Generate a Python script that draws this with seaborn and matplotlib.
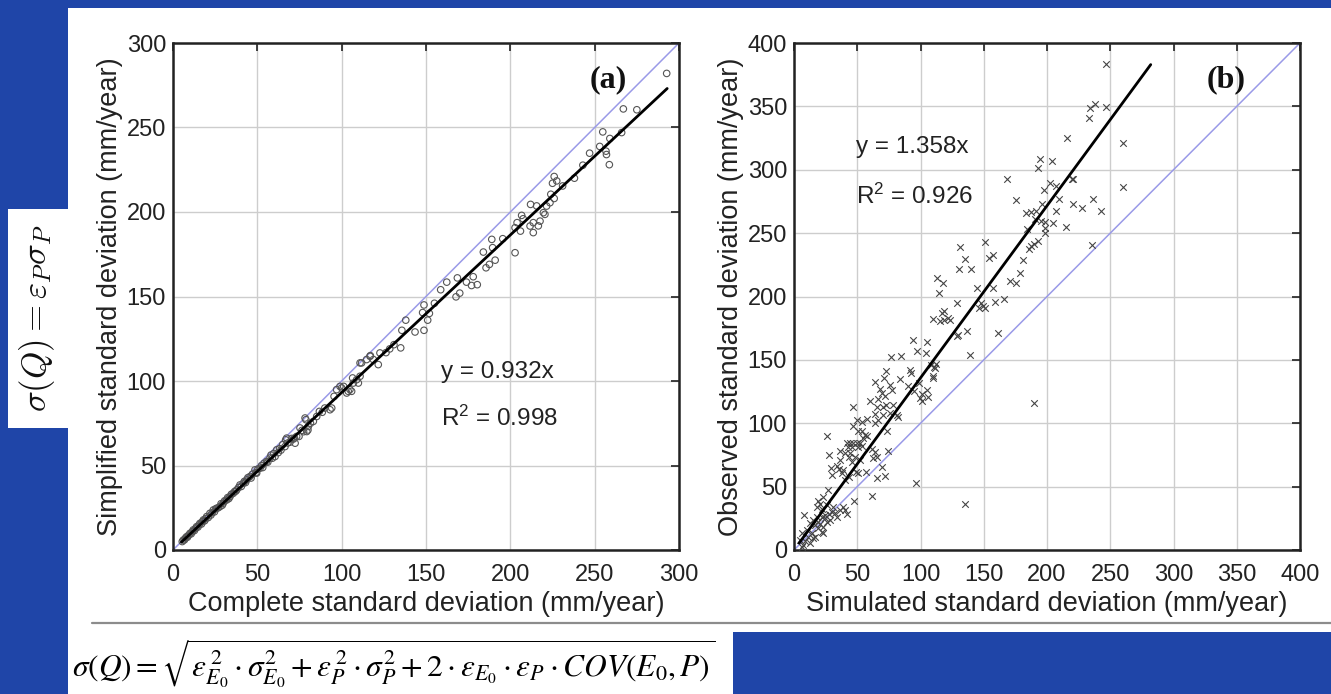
import numpy as np
import pandas as pd
import matplotlib
matplotlib.use("Agg")
import matplotlib.pyplot as plt
from matplotlib.patches import Rectangle
from matplotlib.lines import Line2D
import seaborn as sns

# ---------------- data ----------------
a_complete = [5.5, 6.1, 6.8, 7.4, 8.1, 8.6, 9.3, 10.1, 10.8, 11.5, 12.0, 12.7, 13.5, 14.0, 14.8,
              15.5, 16.0, 16.9, 17.5, 18.0, 18.8, 19.4, 20.0, 20.9, 21.9, 22.5, 23.2, 23.9, 24.6,
              25.2, 25.9, 26.8, 27.9, 28.5, 29.2, 29.8, 30.6, 31.8, 32.4, 33.1, 33.8, 34.6, 35.8,
              36.5, 37.2, 37.8, 38.9, 39.7, 40.5, 41.7, 42.3, 43.0, 43.7, 44.4, 45.7, 46.3, 47.1,
              48.6, 49.2, 49.6, 50.4, 51.6, 52.5, 53.2, 54.0, 55.5, 56.2, 57.5, 58.1, 58.9, 59.8,
              60.5, 61.5, 62.4, 63.2, 64.0, 65.0, 66.4, 66.8, 67.4, 68.0, 69.4, 70.3, 71.3, 72.0,
              72.4, 73.3, 74.7, 75.3, 76.5, 77.4, 78.3, 78.8, 79.3, 80.2, 80.0, 81.5, 83.2, 85.2,
              86.8, 88.5, 90.0, 93.1, 94.1, 95.5, 97.0, 99.0, 100.0, 101.2, 103.0, 103.9, 104.9,
              105.9, 106.5, 106.9, 108.9, 109.9, 110.9, 110.9, 111.8, 114.8, 116.8, 117.0, 118.8,
              121.7, 122.7, 126.3, 128.5, 131.0, 135.0, 135.7, 138.0, 143.5, 148.0, 148.8, 148.8,
              151.0, 152.0, 155.0, 158.7, 162.3, 167.8, 168.6, 170.0, 174.0, 177.0, 178.0, 180.4,
              184.0, 185.6, 187.6, 189.0, 189.5, 191.0, 195.5, 202.8, 202.8, 204.0, 206.0, 206.7,
              207.6, 211.7, 212.0, 213.6, 213.6, 215.6, 216.6, 217.6, 219.6, 220.5, 221.5, 223.5,
              224.0, 225.0, 226.0, 226.0, 227.5, 231.0, 238.0, 243.0, 247.0, 253.0, 254.8, 256.7,
              257.0, 258.7, 259.0, 266.0, 267.0, 275.0, 292.7]
a_simplified = [5.0, 5.9, 6.0, 7.1, 7.9, 7.6, 8.8, 9.9, 9.6, 10.9, 11.9, 11.5, 12.9, 13.8, 13.6,
                14.9, 15.8, 15.4, 16.8, 17.8, 17.3, 18.6, 19.8, 19.2, 21.7, 20.7, 22.0, 23.7, 22.6,
                24.3, 24.7, 25.0, 25.7, 27.4, 26.5, 27.7, 29.1, 29.6, 31.0, 30.4, 31.6, 33.0, 33.6,
                34.6, 34.8, 35.6, 37.0, 38.5, 37.6, 39.5, 40.6, 39.9, 41.5, 42.8, 43.5, 42.6, 44.9,
                47.4, 45.8, 45.5, 47.9, 48.4, 49.9, 48.8, 51.3, 52.4, 52.0, 54.4, 56.2, 54.3, 57.1,
                55.3, 59.3, 57.6, 60.0, 59.1, 62.3, 61.2, 65.2, 66.2, 63.3, 63.8, 66.0, 65.6, 66.2,
                63.2, 67.2, 67.2, 72.2, 70.8, 70.0, 78.1, 77.1, 70.1, 73.1, 71.0, 75.0, 76.1, 79.0,
                82.0, 81.5, 84.0, 83.0, 84.0, 90.9, 94.9, 96.8, 95.9, 96.8, 92.9, 93.9, 94.9,
                93.9, 101.8, 98.8, 100.8, 98.8, 102.8, 110.7, 110.7, 112.7, 114.6, 115.0, 112.7,
                109.7, 116.6, 116.8, 119.0, 121.5, 119.6, 130.0, 136.0, 129.0, 140.5, 130.0, 145.0,
                136.0, 140.0, 146.0, 154.0, 158.5, 149.8, 161.0, 152.0, 158.5, 156.5, 161.7, 157.0,
                176.3, 167.0, 169.0, 183.8, 178.9, 171.5, 184.2, 175.9, 190.7, 193.7, 188.7, 198.0,
                196.0, 191.7, 204.5, 193.7, 187.8, 203.6, 191.8, 194.6, 199.6, 198.6, 203.5, 205.5,
                210.5, 217.0, 221.0, 208.0, 218.4, 215.4, 220.0, 227.7, 234.8, 238.8, 247.4, 236.0,
                234.0, 228.0, 243.5, 247.0, 261.0, 260.5, 282.0]

b_simulated = [4.7, 6.0, 6.0, 7.4, 7.9, 8.7, 10.0, 11.3, 12.6, 12.6, 14.0, 15.3, 15.3, 16.6, 16.6,
               18.0, 18.0, 19.2, 19.2, 19.2, 20.6, 20.6, 21.9, 21.9, 21.9, 23.2, 23.2, 23.2, 24.5,
               24.5, 25.8, 25.8, 25.8, 27.1, 27.9, 27.9, 28.5, 29.0, 29.7, 29.7, 31.1, 32.4, 33.7,
               33.7, 35.7, 36.4, 36.4, 36.4, 37.6, 38.9, 39.0, 40.2, 40.3, 40.3, 41.6, 41.6, 43.0,
               43.7, 43.7, 44.3, 44.3, 45.6, 45.6, 46.4, 46.9, 46.9, 47.4, 48.2, 49.4, 49.6, 49.6,
               50.7, 50.8, 50.9, 52.2, 52.2, 53.5, 53.5, 53.5, 54.8, 56.1, 56.7, 57.5, 58.0, 60.0,
               61.4, 61.4, 62.2, 64.0, 64.0, 64.0, 64.0, 65.4, 65.8, 65.8, 66.6, 66.6, 67.6, 69.3,
               69.7, 70.5, 70.5, 71.1, 71.9, 72.3, 72.7, 73.1, 73.3, 74.6, 75.7, 75.9, 76.4, 77.2,
               78.4, 81.5, 82.3, 83.8, 84.3, 90.4, 91.7, 92.2, 93.8, 94.8, 96.4, 97.0, 98.7, 99.6,
               100.9, 100.9, 104.3, 104.9, 105.5, 106.0, 108.0, 109.6, 110.1, 110.1, 110.6, 111.5,
               112.5, 112.8, 114.9, 115.8, 116.9, 117.5, 118.5, 118.6, 121.6, 123.0, 128.6, 128.6,
               130.0, 130.7, 131.2, 135.2, 135.2, 136.5, 139.1, 140.0, 144.4, 146.0, 147.7, 149.6,
               151.0, 151.0, 154.4, 157.0, 157.6, 158.6, 161.3, 166.4, 168.6, 170.8, 175.5, 175.8,
               178.7, 180.8, 183.4, 184.3, 185.9, 187.0, 187.0, 189.6, 190.0, 190.7, 191.3, 192.7,
               193.1, 194.5, 194.9, 195.8, 197.9, 198.4, 198.4, 198.4, 202.0, 203.7, 205.0, 207.1,
               207.1, 209.7, 214.7, 216.0, 219.5, 220.5, 220.3, 227.4, 233.4, 234.0, 235.3, 236.6,
               237.9, 242.4, 246.4, 246.6, 260.0, 260.0]
b_observed = [7.9, 2.6, 13.2, 3.9, 27.7, 7.4, 15.8, 10.5, 21.1, 5.3, 13.7, 23.7, 9.2, 19.8, 10.5,
              34.3, 25.8, 39.0, 17.1, 22.4, 36.3, 20.6, 32.2, 26.4, 14.5, 41.6, 18.4, 13.2, 27.7,
              25.0, 35.6, 22.4, 90.1, 47.4, 28.5, 75.1, 23.7, 64.6, 30.3, 59.3, 34.3, 29.0, 26.4,
              66.5, 63.8, 77.8, 71.1, 31.6, 60.6, 63.2, 34.3, 55.3, 76.4, 31.6, 84.3, 28.5, 81.0,
              73.7, 57.9, 84.3, 76.4, 69.8, 81.5, 97.5, 113.2, 84.3, 38.3, 73.7, 61.9, 102.3, 84.3,
              61.1, 93.5, 81.0, 84.3, 71.1, 100.7, 93.5, 82.0, 88.2, 90.9, 61.9, 103.3, 89.6, 117.2,
              79.6, 42.7, 72.4, 132.3, 107.5, 100.1, 77.0, 56.7, 113.2, 73.7, 119.0, 102.8, 127.0, 65.8,
              124.2, 113.2, 106.6, 135.7, 58.0, 121.6, 141.0, 114.5, 93.5, 77.8, 107.9, 130.4, 152.3, 126.5,
              114.5, 106.6, 105.3, 134.9, 153.4, 129.6, 141.7, 139.6, 165.5, 125.1, 53.2, 156.8, 131.8, 119.9,
              123.3, 117.2, 155.5, 163.9, 126.5, 121.0, 146.0, 135.6, 182.4, 137.0, 144.4, 143.6,
              147.0, 214.8, 203.0, 180.5, 187.0, 210.8, 181.8, 188.4, 183.4, 181.7, 194.5, 168.6,
              170.0, 221.9, 239.3, 229.8, 36.4, 172.6, 154.0, 221.9, 206.8, 191.0, 195.0, 192.3,
              243.2, 191.0, 230.0, 232.4, 206.8, 195.5, 171.3, 198.2, 293.0, 212.0, 210.3, 276.4,
              218.7, 228.7, 265.6, 253.0, 237.4, 239.8, 266.5, 241.4, 116.0, 260.9, 267.3, 244.0,
              301.0, 308.8, 259.9, 272.7, 284.0, 254.3, 250.3, 258.9, 289.3, 306.7, 258.0, 287.2,
              267.4, 277.2, 254.5, 325.0, 292.5, 292.8, 272.7, 270.1, 340.5, 348.4, 240.6, 277.2,
              351.8, 267.4, 349.2, 383.5, 321.0, 286.7]

a_fit_slope, a_r2 = 0.932, 0.998
b_fit_slope, b_r2 = 1.358, 0.926
a_fit_range = [5, 293]
b_fit_range = [4, 282]
a_ticks = [0, 50, 100, 150, 200, 250, 300]
b_ticks = [0, 50, 100, 150, 200, 250, 300, 350, 400]

# ---------------- style ----------------
sns.set_style("white")
plt.rcParams["font.family"] = ["Liberation Sans", "DejaVu Sans"]
plt.rcParams["mathtext.fontset"] = "custom"
plt.rcParams["mathtext.rm"] = "Liberation Sans"

BLUE = "#1f45a8"
TXT = "#222222"

fig = plt.figure(figsize=(13.31, 6.94), dpi=100)
fig.patch.set_facecolor(BLUE)

W, H = 1331.0, 694.0
def frect(x0, y0, x1, y1, color):
    fig.add_artist(Rectangle((x0 / W, 1 - y1 / H), (x1 - x0) / W, (y1 - y0) / H,
                             transform=fig.transFigure, facecolor=color, edgecolor="none", zorder=0))

frect(68, 8, 1331, 632, "white")     # main panel
frect(8, 209, 68, 428, "white")      # left box
frect(68, 632, 733, 694, "white")    # bottom equation box
fig.add_artist(Line2D([92 / W, 1.0], [1 - 623 / H, 1 - 623 / H], transform=fig.transFigure,
                      color="#8c8c8c", lw=1.6, zorder=1))

def px_axes(x0, y0, x1, y1):
    return fig.add_axes([x0 / W, 1 - y1 / H, (x1 - x0) / W, (y1 - y0) / H])

axA = px_axes(173, 43, 679, 550)
axB = px_axes(794, 43, 1300, 550)

def style(ax, ticks, lim):
    ax.set_xlim(0, lim)
    ax.set_ylim(0, lim)
    ax.set_xticks(ticks)
    ax.set_yticks(ticks)
    ax.grid(True, color="#cdcdcd", lw=1.0)
    ax.set_axisbelow(True)
    ax.tick_params(direction="in", top=True, right=True, length=6, width=1.2,
                   labelsize=17, labelcolor=TXT, color="#222")
    ax.tick_params(axis="x", pad=10)
    ax.tick_params(axis="y", pad=5)
    for s in ax.spines.values():
        s.set_linewidth(1.8)
        s.set_color("#222")
        s.set_visible(True)
    ax.set_facecolor("white")

# ---- panel (a)
dfA = pd.DataFrame({"x": a_complete, "y": a_simplified})
sns.lineplot(x=[0, 300], y=[0, 300], ax=axA, color="#9a9ae8", lw=1.1, zorder=2)
sns.scatterplot(data=dfA, x="x", y="y", ax=axA, marker="o", s=22, facecolor="none",
                edgecolor="#555555", linewidth=0.8, zorder=3)
fa = np.array(a_fit_range, dtype=float)
sns.lineplot(x=fa, y=a_fit_slope * fa, ax=axA, color="black", lw=2.0, zorder=4)
style(axA, a_ticks, 300)
axA.set_xlabel("Complete standard deviation (mm/year)", fontsize=19.5, color=TXT, labelpad=4)
axA.set_ylabel("Simplified standard deviation (mm/year)", fontsize=19.5, color=TXT, labelpad=3)
axA.text(159, 105.5, f"y = {a_fit_slope:.3f}x", fontsize=17.5, color=TXT, va="center")
axA.text(159, 78, r"$\mathregular{R^2}$" + f" = {a_r2:.3f}", fontsize=17.5, color=TXT, va="center")
axA.text(258, 278, "(a)", fontsize=23, fontweight="bold", family="Liberation Serif",
         ha="center", va="center", color="#111")

# ---- panel (b)
dfB = pd.DataFrame({"x": b_simulated, "y": b_observed})
sns.lineplot(x=[0, 400], y=[0, 400], ax=axB, color="#9a9ae8", lw=1.1, zorder=2)
sns.scatterplot(data=dfB, x="x", y="y", ax=axB, marker="x", s=22, color="#444444",
                linewidth=0.8, zorder=3)
fb = np.array(b_fit_range, dtype=float)
sns.lineplot(x=fb, y=b_fit_slope * fb, ax=axB, color="black", lw=2.0, zorder=4)
style(axB, b_ticks, 400)
axB.set_xlabel("Simulated standard deviation (mm/year)", fontsize=19.5, color=TXT, labelpad=4)
axB.set_ylabel("Observed standard deviation (mm/year)", fontsize=19.5, color=TXT, labelpad=3)
axB.text(49, 318, f"y = {b_fit_slope:.3f}x", fontsize=17.5, color=TXT, va="center")
axB.text(49, 279, r"$\mathregular{R^2}$" + f" = {b_r2:.3f}", fontsize=17.5, color=TXT, va="center")
axB.text(341.5, 371, "(b)", fontsize=23, fontweight="bold", family="Liberation Serif",
         ha="center", va="center", color="#111")

# ---- equations
fig.text(37 / W, 1 - 318 / H, r"$\sigma(Q) = \varepsilon_P\sigma_P$", rotation=90,
         fontsize=25, ha="center", va="center", math_fontfamily="cm", color="#111")
fig.text(72 / W, 1 - 664 / H,
         r"$\sigma\left(Q\right)=\sqrt{\varepsilon_{E_0}^{\,2}\cdot\sigma_{E_0}^{2}+\varepsilon_{P}^{\,2}\cdot\sigma_{P}^{2}+2\cdot\varepsilon_{E_0}\cdot\varepsilon_{P}\cdot COV\left(E_0,P\right)}$",
         fontsize=22.6, ha="left", va="center", math_fontfamily="stix", color="black")

fig.savefig("out.png", dpi=100, facecolor=fig.get_facecolor())
